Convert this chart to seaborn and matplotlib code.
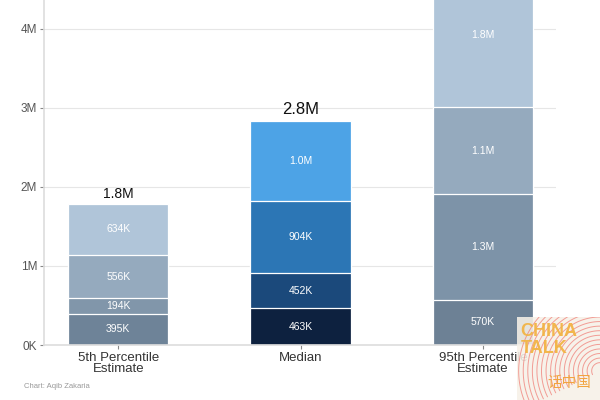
import numpy as np
import pandas as pd
import seaborn as sns
import matplotlib.pyplot as plt
from matplotlib.ticker import FuncFormatter

# data (thousands)
categories = ["5th Percentile\nEstimate", "Median", "95th Percentile\nEstimate"]
layer1 = [395, 463, 570]
layer2 = [194, 452, 1340]
layer3 = [556, 904, 1100]
layer4 = [634, 1020, 1830]
layer1_lbl = ["395K", "463K", "570K"]
layer2_lbl = ["194K", "452K", "1.3M"]
layer3_lbl = ["556K", "904K", "1.1M"]
layer4_lbl = ["634K", "1.0M", "1.8M"]
total_lbl = ["1.8M", "2.8M", "4.8M"]

layers = [layer1, layer2, layer3, layer4]
labels = [layer1_lbl, layer2_lbl, layer3_lbl, layer4_lbl]
colors = [
    ["#6e8398", "#0d213f", "#6d8195"],
    ["#8196aa", "#1b497b", "#7d93a8"],
    ["#95aabe", "#2c76b5", "#95aabe"],
    ["#b0c5d9", "#4da3e6", "#b0c5d9"],
]

sns.set_theme(style="white")
plt.rcParams['font.family'] = ['Liberation Sans', 'DejaVu Sans']

fig = plt.figure(figsize=(6, 4), dpi=100)
ax = fig.add_axes([44 / 600, 1 - 345 / 400, 512 / 600, 345 / 400])

cum = np.cumsum(np.array(layers, dtype=float), axis=0) * 1000
# draw cumulative bars from the top layer down so the smaller ones sit in front
for k in range(len(layers) - 1, -1, -1):
    df = pd.DataFrame({"cat": categories, "val": cum[k]})
    sns.barplot(data=df, x="cat", y="val", hue="cat", palette=colors[k],
                width=0.55, edgecolor="white", linewidth=0.9,
                legend=False, ax=ax, saturation=1)

ymax = 4.367e6
for i in range(len(categories)):
    prev = 0
    for k in range(len(layers)):
        mid = (prev + cum[k][i]) / 2
        ax.text(i, mid, labels[k][i], ha="center", va="center",
                color="white", fontsize=7.5, clip_on=True)
        prev = cum[k][i]

tsizes = [10, 12, 13]
for i in range(len(categories)):
    if cum[-1][i] < ymax * 0.9:  # the 95th total sits above the visible range
        ax.text(i, cum[-1][i] + 50000, total_lbl[i], ha="center", va="bottom",
                color="#111111", fontsize=tsizes[i], clip_on=True)

ax.set_ylim(0, ymax)
ax.set_xlim(-0.407, 2.40)
ax.set_yticks([0, 1e6, 2e6, 3e6, 4e6])
ax.yaxis.set_major_formatter(FuncFormatter(lambda v, p: "0K" if v == 0 else f"{v/1e6:.0f}M"))
ax.grid(axis="y", color="#e6e6e6", linewidth=0.8)
ax.set_axisbelow(True)
ax.set_xlabel("")
ax.set_ylabel("")
ax.tick_params(axis="y", labelsize=8.5, length=3, width=0.8, left=True, pad=2)
ax.tick_params(axis="x", labelsize=9.5, length=3, width=0.8, bottom=True, pad=2)
for lab in ax.get_yticklabels():
    lab.set_color("#555555")
for lab in ax.get_xticklabels():
    lab.set_color("#333333")
    lab.set_linespacing(0.95)
ax.tick_params(axis="both", which="major", color="#888888")
for s in ["top", "right"]:
    ax.spines[s].set_visible(False)
ax.spines["left"].set_color("#dddddd")
ax.spines["bottom"].set_color("#dddddd")
ax.spines["left"].set_linewidth(1.2)
ax.spines["bottom"].set_linewidth(1.2)

fig.text(24 / 600, 1 - 386 / 400, "Chart: Aqib Zakaria", fontsize=5.5, color="#999999",
         va="center", ha="left")

# logo
lax = fig.add_axes([517 / 600, 0, 83 / 600, 83 / 400])
lax.set_xlim(0, 1)
lax.set_ylim(0, 1)
lax.patch.set_facecolor("#f7f1e8")
lax.patch.set_alpha(0.88)
for r in np.arange(0.1, 1.0, 0.055):
    th = np.linspace(1.5, 3.6, 60)
    lax.plot(1.0 + r * np.cos(th), 0.35 + r * np.sin(th), color="#f07f78",
             linewidth=0.7, alpha=0.75)
lax.text(0.04, 0.83, "CHINA", color="#f2b445", fontsize=13, fontweight="bold",
         ha="left", va="center", alpha=0.95)
lax.text(0.04, 0.62, "TALK", color="#f2b445", fontsize=13, fontweight="bold",
         ha="left", va="center", alpha=0.95)
lax.text(0.63, 0.2, "话中国", color="#f2a440", fontsize=10.5, ha="center", va="center",
         family=["Noto Sans CJK SC", "DejaVu Sans"])
lax.set_xticks([])
lax.set_yticks([])
for s in lax.spines.values():
    s.set_visible(False)

fig.savefig("out.png", dpi=100)
